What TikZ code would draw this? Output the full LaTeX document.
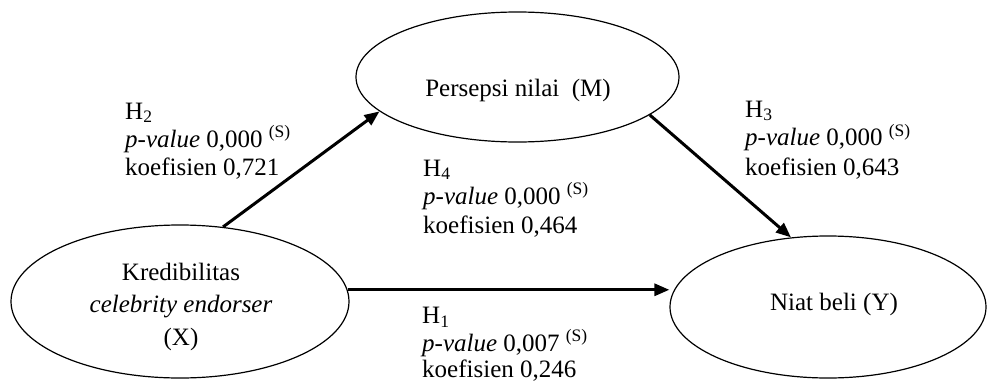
\documentclass[tikz,border=0pt]{standalone}
\usepackage{fontspec}
\setmainfont{Liberation Serif}
\usetikzlibrary{shapes.geometric,arrows.meta}
\begin{document}
\begin{tikzpicture}[x=1pt,y=-1pt,
  oval/.style={ellipse,draw,line width=1.2pt,inner sep=0pt},
  txt/.style={font=\fontsize{25}{30}\selectfont,inner sep=0pt,anchor=base},
  lbl/.style={font=\fontsize{25}{30}\selectfont,inner sep=0pt,anchor=base west},
  arr/.style={line width=3pt,-{Triangle[length=15pt,width=12pt]}}]
\useasboundingbox (0,0) rectangle (988,383);

% ellipses
\node[oval,minimum width=338pt,minimum height=153pt] (X) at (180,301.5) {};
\node[oval,minimum width=323pt,minimum height=130pt] (M) at (517.5,77) {};
\node[oval,minimum width=316pt,minimum height=142pt] (Y) at (828,307) {};

% ellipse texts
\node[txt] (xt1) at (181,280) {Kredibilitas};
\node[txt] (xt2) at (181,312.5) {\itshape celebrity endorser};
\node[txt] (xt3) at (181,345) {(X)};
\node[txt] (mt) at (518,96.5) {Persepsi nilai\ \ (M)};
\node[txt] (yt) at (834,310) {Niat beli (Y)};

% arrows
\draw[arr] (X.60) -- (M.194);
\draw[arr] (M.344) -- (Y.118);
\draw[arr] (X.4) -- (X.4 -| Y.west);

% H2
\node[lbl] (h2a) at (125,119) {H\textsubscript{2}};
\node[lbl] (h2b) at (125,147) {\textit{p-value} 0,000 \textsuperscript{(S)}};
\node[lbl] (h2c) at (125,175) {koefisien 0,721};
% H3
\node[lbl] (h3a) at (745,117) {H\textsubscript{3}};
\node[lbl] (h3b) at (745,145.5) {\textit{p-value} 0,000 \textsuperscript{(S)}};
\node[lbl] (h3c) at (745,175) {koefisien 0,643};
% H4
\node[lbl] (h4a) at (423,176) {H\textsubscript{4}};
\node[lbl] (h4b) at (423,204) {\textit{p-value} 0,000 \textsuperscript{(S)}};
\node[lbl] (h4c) at (423,233) {koefisien 0,464};
% H1
\node[lbl] (h1a) at (422,323.5) {H\textsubscript{1}};
\node[lbl] (h1b) at (422,351) {\textit{p-value} 0,007 \textsuperscript{(S)}};
\node[lbl] (h1c) at (422,377.5) {koefisien 0,246};
\end{tikzpicture}
\end{document}
